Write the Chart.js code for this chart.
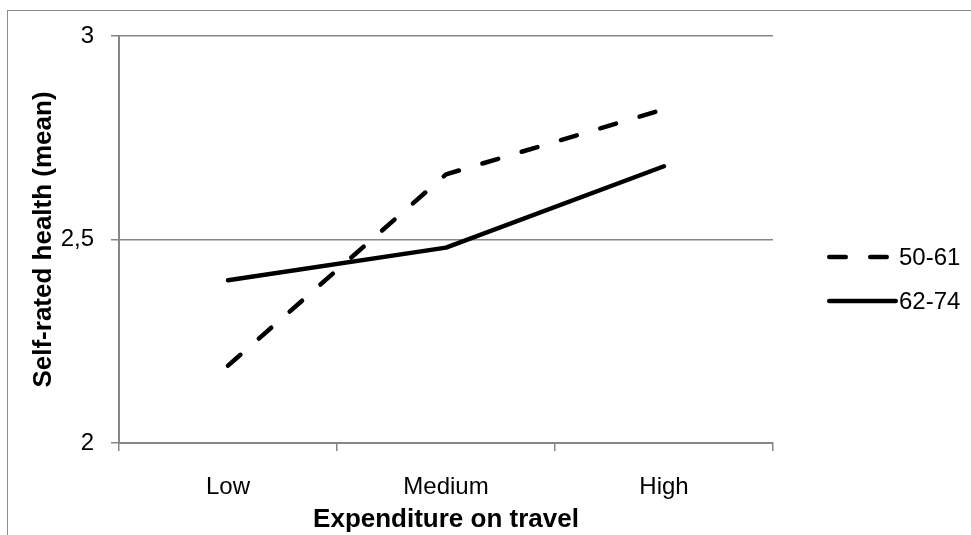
<!DOCTYPE html>
<html>
<head>
<meta charset="utf-8">
<script src="https://cdn.jsdelivr.net/npm/chart.js@4"></script>
<style>
  html, body { margin: 0; padding: 0; background: #fff; overflow: hidden; }
  #wrap { position: relative; width: 971px; height: 535px; }
  #frame { position: absolute; left: 7px; top: 10px; width: 1000px; height: 600px; border: 1.5px solid #8c8c8c; box-sizing: border-box; }
  canvas { position: absolute; left: 0; top: 0; }
</style>
</head>
<body>
<div id="wrap">
  <div id="frame"></div>
  <canvas id="c" width="971" height="535"></canvas>
</div>
<script>
const categories = ['Low', 'Medium', 'High'];
const seriesNames = ['50-61', '62-74'];
const values5061 = [2.19, 2.66, 2.82];
const values6274 = [2.40, 2.48, 2.68];
const yTickValues = [2, 2.5, 3];
const xTitle = 'Expenditure on travel';
const yTitle = 'Self-rated health (mean)';

const FONT = "'Liberation Sans', Arial, sans-serif";
const AXIS_GRAY = '#868686';

const legendPlugin = {
  id: 'sideLegend',
  afterDraw(chart) {
    const ctx = chart.ctx;
    const x0 = chart.chartArea.right + 54;
    const x1 = x0 + 71;
    const rows = [257, 301];
    chart.data.datasets.forEach((ds, i) => {
      const y = rows[i];
      ctx.save();
      ctx.strokeStyle = ds.borderColor;
      ctx.lineWidth = ds.borderWidth;
      ctx.lineCap = 'round';
      ctx.setLineDash(ds.borderDash || []);
      ctx.beginPath();
      ctx.moveTo(x0 + 2.25, y);
      ctx.lineTo(x1 - 2.25, y);
      ctx.stroke();
      ctx.setLineDash([]);
      ctx.fillStyle = '#000';
      ctx.font = '24px ' + FONT;
      ctx.textBaseline = 'middle';
      ctx.textAlign = 'left';
      ctx.fillText(ds.label, x1 + 1, y + 1);
      ctx.restore();
    });
  }
};

new Chart(document.getElementById('c'), {
  type: 'line',
  data: {
    labels: categories,
    datasets: [
      {
        label: seriesNames[0],
        data: values5061,
        borderColor: '#000',
        borderWidth: 4.5,
        borderDash: [16.5, 24.5],
        borderCapStyle: 'round',
        borderJoinStyle: 'round',
        pointRadius: 0,
        tension: 0,
        fill: false
      },
      {
        label: seriesNames[1],
        data: values6274,
        borderColor: '#000',
        borderWidth: 4.5,
        borderCapStyle: 'round',
        borderJoinStyle: 'round',
        pointRadius: 0,
        tension: 0,
        fill: false
      }
    ]
  },
  options: {
    responsive: false,
    animation: false,
    devicePixelRatio: 1,
    layout: { padding: { top: 36, right: 198, left: 0, bottom: 0 } },
    plugins: {
      legend: { display: false },
      tooltip: { enabled: false }
    },
    scales: {
      x: {
        type: 'category',
        offset: true,
        grid: { display: true, offset: true, drawOnChartArea: false, tickLength: 8, color: AXIS_GRAY, lineWidth: 1.5 },
        border: { display: true, color: AXIS_GRAY, width: 2 },
        ticks: { color: '#000', font: { family: FONT, size: 24 }, padding: 22, maxRotation: 0 },
        title: { display: true, text: xTitle, color: '#000', font: { family: FONT, size: 26, weight: 'bold' }, padding: { top: 0, bottom: 0 } },
        afterFit(scale) { scale.height = 92; }
      },
      y: {
        min: 2,
        max: 3,
        afterBuildTicks(scale) { scale.ticks = yTickValues.map(v => ({ value: v })); },
        grid: { color: AXIS_GRAY, lineWidth: 1.5, tickLength: 8 },
        border: { display: true, color: AXIS_GRAY, width: 2 },
        ticks: {
          color: '#000',
          font: { family: FONT, size: 24 },
          padding: 17,
          callback: (v) => String(v).replace('.', ',')
        },
        title: { display: true, text: yTitle, color: '#000', font: { family: FONT, size: 26, weight: 'bold' }, padding: { top: 28, bottom: 0 } },
        afterFit(scale) { scale.width = 119; }
      }
    }
  },
  plugins: [legendPlugin]
});
</script>
</body>
</html>
